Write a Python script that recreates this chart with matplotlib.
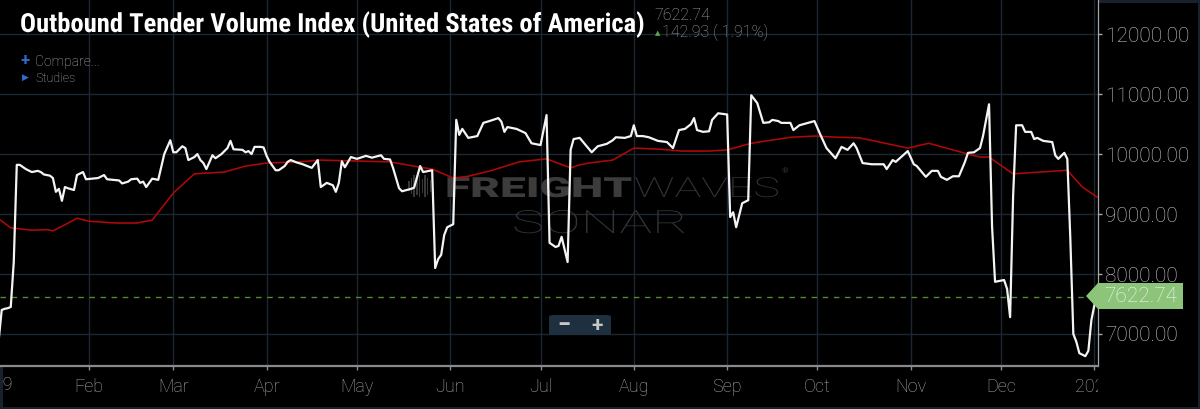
import matplotlib
matplotlib.use("Agg")
import numpy as np
import pandas as pd
import matplotlib.pyplot as plt
from matplotlib import font_manager
from matplotlib.patches import Polygon, FancyBboxPatch, Rectangle
from matplotlib.patheffects import AbstractPathEffect
from matplotlib.transforms import Affine2D, Bbox, TransformedBbox
from matplotlib.ticker import FixedLocator, FuncFormatter

# ===== data =====
otvi_dates = [
    "2019-01-02", "2019-01-03", "2019-01-04", "2019-01-05", "2019-01-06", "2019-01-07",
    "2019-01-08", "2019-01-09", "2019-01-11", "2019-01-13", "2019-01-15", "2019-01-16",
    "2019-01-17", "2019-01-19", "2019-01-20", "2019-01-21", "2019-01-22", "2019-01-23",
    "2019-01-24", "2019-01-25", "2019-01-27", "2019-01-28", "2019-01-30", "2019-01-31",
    "2019-02-02", "2019-02-04", "2019-02-06", "2019-02-07", "2019-02-09", "2019-02-11",
    "2019-02-12", "2019-02-14", "2019-02-15", "2019-02-17", "2019-02-18", "2019-02-19",
    "2019-02-20", "2019-02-22", "2019-02-24", "2019-02-26", "2019-02-28", "2019-03-01",
    "2019-03-02", "2019-03-04", "2019-03-05", "2019-03-06", "2019-03-08", "2019-03-09",
    "2019-03-10", "2019-03-11", "2019-03-12", "2019-03-14", "2019-03-15", "2019-03-17",
    "2019-03-19", "2019-03-20", "2019-03-21", "2019-03-24", "2019-03-25", "2019-03-26",
    "2019-03-27", "2019-03-28", "2019-03-30", "2019-03-31", "2019-04-01", "2019-04-02",
    "2019-04-04", "2019-04-05", "2019-04-07", "2019-04-08", "2019-04-09", "2019-04-11",
    "2019-04-13", "2019-04-16", "2019-04-18", "2019-04-19", "2019-04-21", "2019-04-23",
    "2019-04-24", "2019-04-25", "2019-04-26", "2019-04-27", "2019-04-29", "2019-05-01",
    "2019-05-04", "2019-05-06", "2019-05-09", "2019-05-10", "2019-05-12", "2019-05-13",
    "2019-05-15", "2019-05-16", "2019-05-19", "2019-05-20", "2019-05-22", "2019-05-23",
    "2019-05-26", "2019-05-27", "2019-05-28", "2019-05-29", "2019-05-30", "2019-05-31",
    "2019-06-02", "2019-06-03", "2019-06-04", "2019-06-05", "2019-06-07", "2019-06-10",
    "2019-06-12", "2019-06-14", "2019-06-17", "2019-06-18", "2019-06-19", "2019-06-20",
    "2019-06-23", "2019-06-26", "2019-06-28", "2019-07-01", "2019-07-03", "2019-07-04",
    "2019-07-06", "2019-07-07", "2019-07-08", "2019-07-10", "2019-07-11", "2019-07-12",
    "2019-07-14", "2019-07-16", "2019-07-18", "2019-07-20", "2019-07-23", "2019-07-25",
    "2019-07-26", "2019-07-29", "2019-07-31", "2019-08-01", "2019-08-02", "2019-08-04",
    "2019-08-06", "2019-08-09", "2019-08-12", "2019-08-14", "2019-08-16", "2019-08-18",
    "2019-08-20", "2019-08-21", "2019-08-22", "2019-08-24", "2019-08-26", "2019-08-27",
    "2019-08-29", "2019-09-01", "2019-09-02", "2019-09-03", "2019-09-04", "2019-09-06",
    "2019-09-08", "2019-09-09", "2019-09-11", "2019-09-13", "2019-09-15", "2019-09-16",
    "2019-09-18", "2019-09-19", "2019-09-22", "2019-09-23", "2019-09-25", "2019-09-30",
    "2019-10-02", "2019-10-04", "2019-10-07", "2019-10-09", "2019-10-11", "2019-10-13",
    "2019-10-14", "2019-10-16", "2019-10-19", "2019-10-23", "2019-10-24", "2019-10-26",
    "2019-10-27", "2019-10-31", "2019-11-02", "2019-11-03", "2019-11-06", "2019-11-08",
    "2019-11-10", "2019-11-11", "2019-11-13", "2019-11-15", "2019-11-17", "2019-11-19",
    "2019-11-20", "2019-11-22", "2019-11-24", "2019-11-25", "2019-11-27", "2019-11-28",
    "2019-11-29", "2019-12-02", "2019-12-03", "2019-12-04", "2019-12-05", "2019-12-06",
    "2019-12-08", "2019-12-09", "2019-12-11", "2019-12-12", "2019-12-13", "2019-12-15",
    "2019-12-18", "2019-12-19", "2019-12-20", "2019-12-22", "2019-12-23", "2019-12-24",
    "2019-12-25", "2019-12-26", "2019-12-27", "2019-12-29", "2019-12-30", "2019-12-31",
    "2020-01-01", "2020-01-02",
]
otvi_values = [
    6900, 7400, 7420, 7430, 7450, 8200,
    9820, 9820, 9750, 9700, 9720, 9700,
    9660, 9640, 9600, 9370, 9420, 9220,
    9450, 9430, 9400, 9650, 9700, 9580,
    9590, 9600, 9650, 9580, 9570, 9560,
    9510, 9540, 9580, 9590, 9520, 9540,
    9450, 9590, 9570, 10000, 10230, 10030,
    10030, 10130, 10100, 9900, 9950, 10000,
    9900, 9850, 9750, 9980, 9930, 10000,
    10100, 10220, 10080, 10070, 10030, 10050,
    10000, 10120, 10120, 10110, 9970, 9870,
    9730, 9730, 9800, 9870, 9900, 9860,
    9830, 9770, 9900, 9450, 9520, 9480,
    9370, 9520, 9880, 9780, 9950, 9920,
    9970, 9940, 9980, 9920, 9910, 9770,
    9430, 9380, 9420, 9440, 9800, 9700,
    9730, 8100, 8250, 8320, 8650, 8780,
    8830, 10570, 10320, 10420, 10270, 10300,
    10520, 10550, 10600, 10540, 10370, 10450,
    10420, 10350, 10180, 10150, 10650, 8520,
    8450, 8470, 8620, 8200, 10070, 10250,
    10270, 10150, 10030, 10130, 10170, 10230,
    10280, 10270, 10300, 10480, 10300, 10300,
    10280, 10220, 10200, 10100, 10400, 10420,
    10500, 10600, 10400, 10370, 10380, 10570,
    10680, 10660, 8950, 9030, 8780, 9180,
    9230, 10980, 10850, 10520, 10530, 10570,
    10550, 10520, 10520, 10400, 10480, 10550,
    10320, 10100, 9930, 10120, 10070, 10180,
    10100, 9850, 9830, 9830, 9750, 9900,
    9870, 10050, 9830, 9800, 9620, 9720,
    9720, 9620, 9570, 9630, 9630, 9870,
    10020, 10030, 10100, 10300, 10830, 8800,
    7870, 7900, 7750, 7280, 9300, 10480,
    10480, 10370, 10370, 10250, 10270, 10220,
    10200, 9980, 9920, 10020, 9920, 8600,
    7000, 6870, 6680, 6630, 6720, 7230,
    7480, 7622.74,
]

# red moving average line
otvi_ma_dates = [
    "2019-01-02", "2019-01-06", "2019-01-13", "2019-01-18", "2019-01-20", "2019-01-24",
    "2019-01-28", "2019-02-01", "2019-02-10", "2019-02-17", "2019-02-22", "2019-03-01",
    "2019-03-08", "2019-03-18", "2019-03-25", "2019-04-01", "2019-04-12", "2019-04-19",
    "2019-05-12", "2019-05-22", "2019-05-26", "2019-06-02", "2019-06-07", "2019-06-15",
    "2019-06-24", "2019-07-03", "2019-07-11", "2019-07-14", "2019-07-17", "2019-07-25",
    "2019-08-01", "2019-08-10", "2019-08-17", "2019-08-26", "2019-09-01", "2019-09-09",
    "2019-09-22", "2019-09-30", "2019-10-08", "2019-10-15", "2019-10-31", "2019-11-07",
    "2019-11-20", "2019-11-24", "2019-11-27", "2019-12-05", "2019-12-14", "2019-12-23",
    "2019-12-28", "2020-01-02",
]
otvi_ma_values = [
    8920, 8770, 8730, 8740, 8720, 8820,
    8930, 8880, 8850, 8850, 8900, 9350,
    9670, 9700, 9800, 9850, 9870, 9900,
    9870, 9780, 9750, 9600, 9630, 9730,
    9870, 9920, 9770, 9820, 9850, 9900,
    10100, 10080, 10050, 10050, 10070, 10180,
    10280, 10300, 10280, 10270, 10100, 10180,
    10000, 9950, 9950, 9670, 9700, 9730,
    9450, 9280,
]

last_value = 7622.74
last_change = 142.93
last_change_pct = 1.91
y_ticks = [7000, 8000, 9000, 10000, 11000, 12000]
month_labels = ["2019", "Feb", "Mar", "Apr", "May", "Jun", "Jul",
                "Aug", "Sep", "Oct", "Nov", "Dec", "2020"]
title = "Outbound Tender Volume Index (United States of America)"

# ===== look =====
W, H = 1200, 409
BG = "#000000"
GRID = "#1b2733"

def fx(x):
    return x / W

def fy(y):
    return 1 - y / H


class ScaleX(AbstractPathEffect):
    """stretch / squeeze text horizontally around x0 (display px)"""
    def __init__(self, sx, x0):
        super().__init__()
        self.sx = sx
        self.x0 = x0

    def draw_path(self, renderer, gc, tpath, affine, rgbFace=None):
        t = affine + Affine2D().translate(-self.x0, 0).scale(self.sx, 1).translate(self.x0, 0)
        renderer.draw_path(gc, tpath, t, rgbFace)


names = {f.name for f in font_manager.fontManager.ttflist}
cond = "Roboto Condensed" if "Roboto Condensed" in names else "Roboto"
plt.rcParams["font.family"] = ["Roboto", "DejaVu Sans"]

fig = plt.figure(figsize=(W / 100, H / 100), dpi=100, facecolor=BG)
fig.patch.set_edgecolor("#18222c")
fig.patch.set_linewidth(2.5)
ax = fig.add_axes([0, 1 - 365.7 / H, 1098 / W, 365.7 / H])
ax.set_facecolor(BG)

dates = pd.to_datetime(otvi_dates)
ma_dates = pd.to_datetime(otvi_ma_dates)

ax.plot(ma_dates, otvi_ma_values, color="#b00808", lw=1.15, zorder=3,
        solid_joinstyle="round")
ax.plot(dates, otvi_values, color="#f4f4f4", lw=1.6, zorder=4,
        solid_joinstyle="round")
ax.axhline(last_value, color="#4f8c34", lw=1, ls=(0, (4, 4)), zorder=2)

t0 = pd.Timestamp("2019-01-01")
ax.set_xlim(t0 + pd.Timedelta(days=1.43), t0 + pd.Timedelta(days=366.2))
ax.set_ylim(6471, 12569)

month_ticks = pd.date_range("2019-01-01", "2020-01-01", freq="MS")
ax.xaxis.set_major_locator(FixedLocator(matplotlib.dates.date2num(month_ticks)))
ax.set_xticklabels(month_labels)
ax.yaxis.tick_right()
ax.yaxis.set_major_locator(FixedLocator(y_ticks))
ax.yaxis.set_major_formatter(FuncFormatter(lambda v, p: f"{v:.2f}"))

ax.grid(True, color=GRID, lw=1.0)
ax.set_axisbelow(True)
for s in ("left", "top"):
    ax.spines[s].set_visible(False)
ax.spines["bottom"].set_color("#8a8a8a")
ax.spines["bottom"].set_linewidth(1.6)
ax.spines["right"].set_color("#a8a8a8")
ax.spines["right"].set_linewidth(0.9)

ax.tick_params(axis="x", colors="#8a8a8a", labelcolor="#a9a9a9", labelsize=13,
               length=3, width=1, pad=6)
ax.tick_params(axis="y", colors="#a8a8a8", labelcolor="#c4c4c4", labelsize=15,
               length=3, width=1, pad=2)
for lbl in ax.get_xticklabels() + ax.get_yticklabels():
    lbl.set_fontweight("light")

# clip x labels to the plot width like the original
clip = TransformedBbox(Bbox([[0, 0], [1098 / W, 1]]), fig.transFigure)
for tk in ax.xaxis.get_major_ticks():
    tk.label1.set_clip_box(clip)
    tk.label1.set_clip_on(True)
# the Jan-2019 tick sits just left of the view, so only a sliver of its label shows
yr = fig.text(fx(-7), fy(385), month_labels[0], fontsize=13, fontweight="light",
              color="#a9a9a9", ha="center", va="center")
yr.set_clip_box(clip)
yr.set_clip_on(True)

# ===== watermark =====
wm_kw = dict(transform=fig.transFigure, zorder=1, va="baseline", ha="left")
for i, hgt in enumerate([10, 16, 22, 18, 22, 14, 22, 17, 12]):
    ax.add_patch(Rectangle((fx(408 + i * 2.7), fy(186 + hgt / 2)), 1.6 / W, hgt / H,
                           transform=fig.transFigure, color="#383838", zorder=1, lw=0))
wm1 = ax.text(fx(445), fy(197), "FREIGHT", fontsize=20, fontweight="black",
              color="#3c3c3c", **wm_kw)
wm2 = ax.text(fx(634), fy(197), "WAVES", fontsize=20, fontweight="light",
              color="#363636", **wm_kw)
ax.text(fx(782), fy(173), "®", fontsize=6, color="#363636", **wm_kw)
wm3 = ax.text(fx(512), fy(233), "SONAR", fontsize=23, fontweight="light",
              color="#343434", **wm_kw)

# ===== zoom buttons =====
ax.add_patch(FancyBboxPatch((fx(549), fy(335)), 62 / W, 20 / H,
                            boxstyle="round,pad=0,rounding_size=0.004",
                            transform=fig.transFigure, fc="#1e3040", ec="none", zorder=6))
ax.text(fx(564), fy(325.5), "−", transform=fig.transFigure, fontsize=17, fontweight="bold",
        color="#c8c8c8", ha="center", va="center", zorder=7)
ax.text(fx(597), fy(325), "+", transform=fig.transFigure, fontsize=15, fontweight="bold",
        color="#c8c8c8", ha="center", va="center", zorder=7)

# ===== header texts =====
ttl = fig.text(fx(20), fy(32), title, fontsize=19, fontweight="bold", color="white",
               family=[cond, "Roboto", "DejaVu Sans"], ha="left", va="baseline", zorder=6)
fig.text(fx(654), fy(15), f"{last_value:.2f}", fontsize=11.5, fontweight="light",
         color="#a8a8a8", ha="left", va="center", zorder=6)
fig.text(fx(658), fy(33), "▲", fontsize=5, color="#5aa845", ha="center", va="center",
         family=["DejaVu Sans"], zorder=6)
fig.text(fx(662), fy(32), f"{last_change:.2f} ( {last_change_pct:.2f}%)", fontsize=11.5,
         fontweight="light", color="#a0a0a0", ha="left", va="center", zorder=6)
fig.text(fx(25), fy(61), "+", fontsize=12, fontweight="bold", color="#2f6bd0",
         ha="center", va="center", zorder=6)
fig.text(fx(35), fy(62), "Compare...", fontsize=10, fontweight="light", color="#b4b4b4",
         ha="left", va="center", zorder=6)
fig.text(fx(25), fy(77), "▶", fontsize=6.5, color="#2f6bd0", ha="center", va="center",
         family=["DejaVu Sans"], zorder=6)
fig.text(fx(35), fy(78), "Studies", fontsize=9, fontweight="light", color="#b4b4b4",
         ha="left", va="center", zorder=6)

# ===== last value tag =====
tag = Polygon([(fx(1086), fy(296)), (fx(1098), fy(283)), (fx(1183), fy(283)),
               (fx(1183), fy(309)), (fx(1098), fy(309))], closed=True,
              transform=fig.transFigure, fc="#8cc57a", ec="none", zorder=8)
fig.add_artist(tag)
fig.text(fx(1104), fy(296.5), f"{last_value:.2f}", fontsize=15, fontweight="light",
         color="#f6f6f6", ha="left", va="center", zorder=9)

# fit condensed / extended text widths
fig.canvas.draw()
rend = fig.canvas.get_renderer()
for txt, target in [(ttl, 625), (wm1, 187), (wm2, 146), (wm3, 176)]:
    bb = txt.get_window_extent(rend)
    txt.set_path_effects([ScaleX(target / bb.width, bb.x0)])

fig.savefig("out.png", dpi=100, facecolor=fig.get_facecolor(),
            edgecolor=fig.get_edgecolor())
